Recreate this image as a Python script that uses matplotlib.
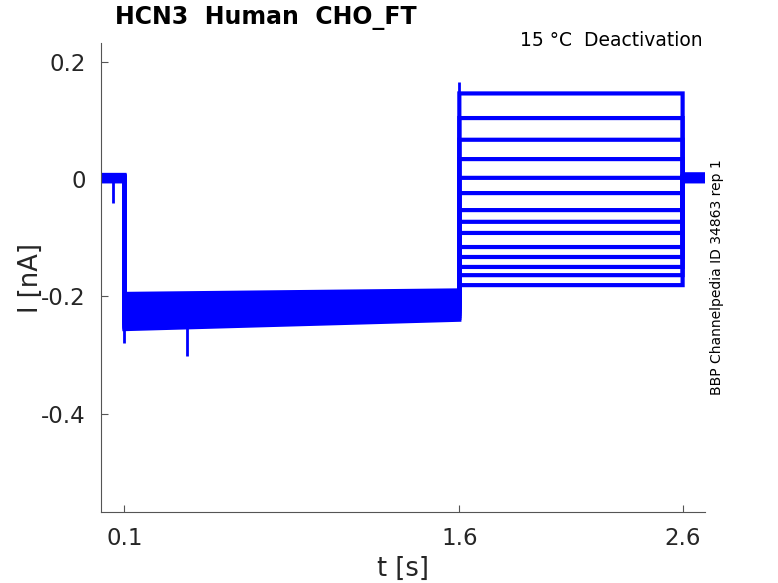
import matplotlib
matplotlib.use("Agg")
import matplotlib.pyplot as plt

# Deactivation protocol: holding phase then test steps, one trace per step
hold_start = [-0.196, -0.201, -0.206, -0.211, -0.216, -0.221, -0.226, -0.231,
              -0.236, -0.241, -0.246, -0.250, -0.253, -0.256]
hold_end = [-0.190, -0.194, -0.198, -0.202, -0.206, -0.210, -0.214, -0.218,
            -0.222, -0.226, -0.230, -0.234, -0.237, -0.240]
step_level = [0.146, 0.104, 0.067, 0.034, 0.002, -0.024, -0.053, -0.073,
              -0.092, -0.116, -0.133, -0.150, -0.164, -0.181]
pre_level = [0.007, 0.006, 0.005, 0.004, 0.003, 0.002, 0.001, 0.000,
             -0.001, -0.002, -0.003, -0.004, -0.003, 0.004]
post_level = [0.008, 0.007, 0.006, 0.005, 0.004, 0.003, 0.002, 0.001,
              0.000, -0.001, -0.002, -0.003, -0.004, 0.005]

# phase boundaries [s]
t_start, t_hold, t_step, t_end, t_stop = 0.0, 0.1, 1.6, 2.6, 2.70

# transients (time, base, peak)
spike_t = [0.05, 0.1, 0.38, 1.6]
spike_base = [0.0, 0.0, -0.235, -0.20]
spike_peak = [-0.041, -0.28, -0.302, 0.165]

fig = plt.figure(figsize=(7.78, 5.83), dpi=100)
ax = fig.add_axes([0.1298, 0.1218, 0.7763, 0.8044])

blue = "#0000ff"
for p0, h0, h1, s, p1 in zip(pre_level, hold_start, hold_end, step_level, post_level):
    t = [t_start, t_hold, t_hold, t_step, t_step, t_end, t_end, t_stop]
    i = [p0, p0, h0, h1, s, s, p1, p1]
    ax.plot(t, i, color=blue, lw=3.0, solid_joinstyle="miter")

ax.vlines(spike_t, spike_base, spike_peak, color=blue, lw=2)

ax.set_xlim(-0.005, 2.70)
ax.set_ylim(-0.568, 0.232)
ax.set_xticks([0.1, 1.6, 2.6])
ax.set_xticklabels(["0.1", "1.6", "2.6"])
ax.set_yticks([-0.4, -0.2, 0, 0.2])
ax.set_yticklabels(["-0.4", "-0.2", "0", "0.2"])

for side in ["top", "right"]:
    ax.spines[side].set_visible(False)
for side in ["left", "bottom"]:
    ax.spines[side].set_color("#555555")
    ax.spines[side].set_linewidth(0.8)
ax.tick_params(direction="in", length=5, width=0.8, color="#555555",
               labelsize=16.5, labelcolor="#262626", pad=11)

ax.set_xlabel("t [s]", fontsize=18.5, color="#262626", labelpad=4)
ax.set_ylabel("I [nA]", fontsize=18.5, color="#262626", labelpad=-2)

fig.text(0.148, 0.969, "HCN3  Human  CHO_FT", fontsize=17, fontweight="bold",
         ha="left", va="center")
fig.text(0.903, 0.930, "15 \u00b0C  Deactivation", fontsize=13.5,
         ha="right", va="center")
fig.text(0.921, 0.525, "BBP Channelpedia ID 34863 rep 1", fontsize=10,
         rotation=90, ha="center", va="center")

fig.savefig("out.png", dpi=100)
